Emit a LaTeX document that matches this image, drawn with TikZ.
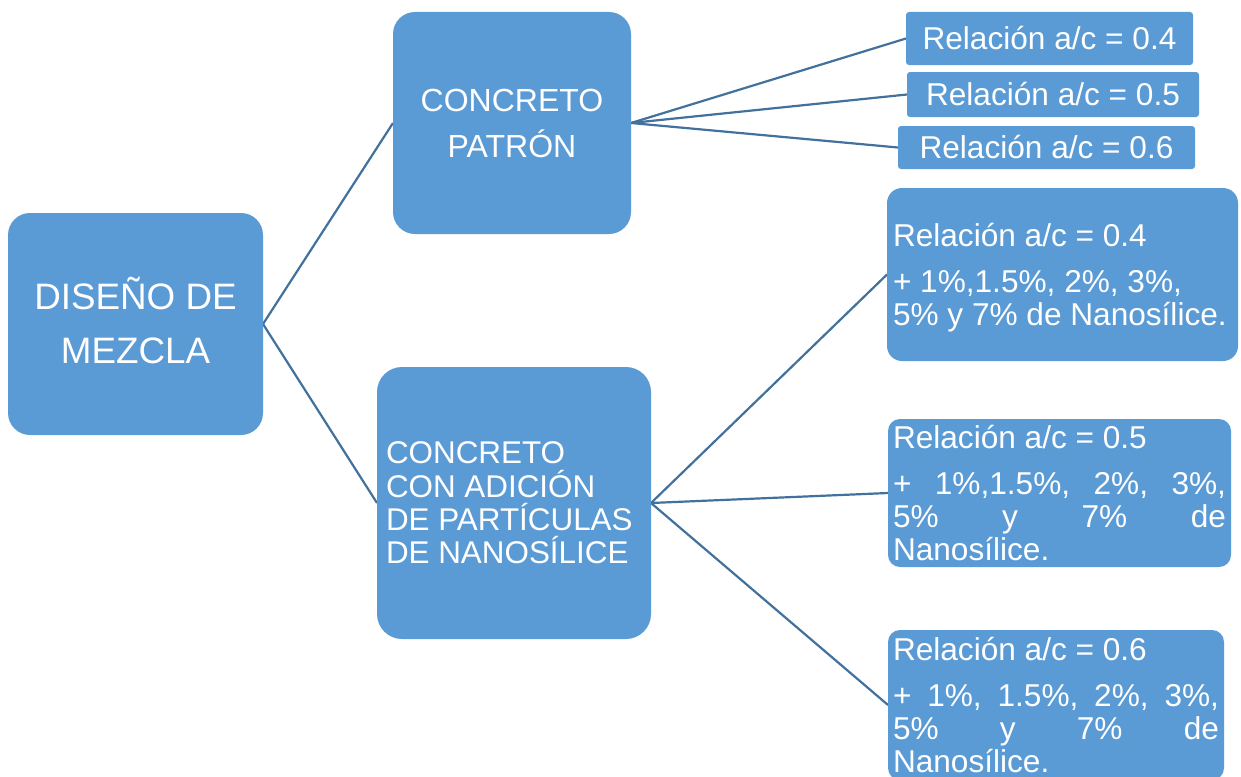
\documentclass[tikz,border=0pt]{standalone}
\usepackage{fontspec}
\setmainfont{Liberation Sans}
\usetikzlibrary{backgrounds}
\definecolor{boxblue}{HTML}{5B9BD5}
\definecolor{lineblue}{HTML}{41719C}
\newcommand{\fullline}[1]{\leavevmode\hbox to \linewidth{#1}}
\begin{document}
\begin{tikzpicture}[x=1pt,y=-1pt,
  box/.style={fill=boxblue, text=white, inner sep=0pt, outer sep=0pt, anchor=north west},
  smallbox/.style={box, rounded corners=3pt, font=\fontsize{31.6}{38}\selectfont},
  nanobox/.style={box, rounded corners=12pt, align=flush left, font=\fontsize{31.6}{33}\selectfont},
  conn/.style={draw=lineblue, line width=2.2pt}]
\useasboundingbox (0,0) rectangle (1241,776);
\clip (0,0) rectangle (1241,776);

\node[box, rounded corners=22pt, minimum width=255pt, minimum height=222pt, align=center, text depth=8pt,
      font=\fontsize{36.8}{54}\selectfont] (root) at (8,213) {DISEÑO DE\\MEZCLA};

\node[box, rounded corners=22pt, minimum width=238pt, minimum height=222pt, align=center,
      font=\fontsize{32}{46}\selectfont] (patron) at (393,12) {CONCRETO\\PATRÓN};

\node[box, rounded corners=25pt, minimum width=274pt, minimum height=272pt, text width=256pt, align=flush left,
      font=\fontsize{31.4}{33.3}\selectfont] (adic) at (377,367)
      {CONCRETO\\CON ADICIÓN\\DE PARTÍCULAS\\DE NANOSÍLICE};

\node[smallbox, minimum width=287pt, minimum height=53pt] (r4) at (906,12) {Relación a/c = 0.4};
\node[smallbox, minimum width=292pt, minimum height=45pt] (r5) at (907,72) {Relación a/c = 0.5};
\node[smallbox, minimum width=297pt, minimum height=43pt] (r6) at (898,126) {Relación a/c = 0.6};

\node[nanobox, rounded corners=15pt, minimum width=351pt, minimum height=173pt, text width=339pt, text height=30pt] (n1) at (887,188)
  {Relación a/c = 0.4\\[13pt]+ 1\%,1.5\%, 2\%, 3\%,\\\mbox{5\% y 7\% de Nanosílice.}};

\node[nanobox, minimum width=343pt, minimum height=148pt, text width=333pt] (n2) at (888,419)
  {Relación a/c = 0.5\\[13pt]\fullline{+\hfill 1\%,1.5\%,\hfill 2\%,\hfill 3\%,}\\\fullline{5\%\hfill y\hfill 7\%\hfill de}\\Nanosílice.};

\node[nanobox, minimum width=336pt, minimum height=150pt, text width=326pt] (n3) at (888,630)
  {Relación a/c = 0.6\\[13pt]\fullline{+\hfill 1\%,\hfill 1.5\%,\hfill 2\%,\hfill 3\%,}\\\fullline{5\%\hfill y\hfill 7\%\hfill de}\\Nanosílice.};

\begin{scope}[on background layer]
\fill[white] (0,0) rectangle (1241,776);
\draw[conn] (root.east) -- (patron.west);
\draw[conn] (root.east) -- (adic.west);
\draw[conn] (patron.east) -- (r4.west);
\draw[conn] (patron.east) -- (r5.west);
\draw[conn] (patron.east) -- (r6.west);
\draw[conn] (adic.east) -- (n1.west);
\draw[conn] (adic.east) -- (n2.west);
\draw[conn] (adic.east) -- (n3.west);
\end{scope}
\end{tikzpicture}
\end{document}
